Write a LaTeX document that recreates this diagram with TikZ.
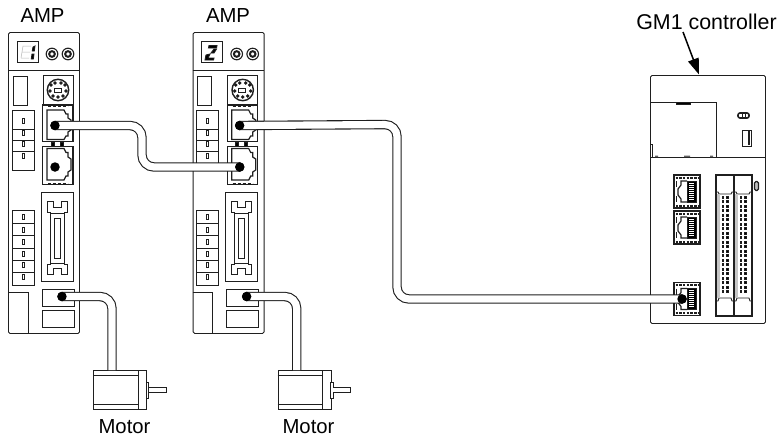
\documentclass[tikz,border=0pt]{standalone}
\usepackage{fontspec}
\setmainfont{Liberation Sans}
\usetikzlibrary{arrows.meta}
\definecolor{ln}{gray}{0.12}
\tikzset{
 x=1pt,y=-1pt,
 ln/.style={draw=ln,line width=0.9pt},
 thin ln/.style={draw=ln,line width=0.6pt},
 heavy/.style={draw=ln,line width=1.2pt},
 lbl/.style={font=\fontsize{20.3}{22}\selectfont,inner sep=0pt,text=black},
 dotn/.style={circle,fill=black,draw=none,minimum size=9.5pt,inner sep=0pt},
 cable/.style={draw=ln,line width=1.1pt,double=white,double distance=7.2pt,rounded corners=12pt},
 amp/.pic={
  \node[ln,rectangle,rounded corners=1.5pt,minimum width=71pt,minimum height=301pt,inner sep=0pt,anchor=north west,fill=white] (body) at (8,32) {};
  \draw[thin ln] (17,41) rectangle (38,62);
  \foreach \k in {52,68} {
   \draw[ln,line width=1.1pt] (\k,54) circle (5.8);
   \draw[ln,line width=2pt] (\k,54) circle (2.8);
  }
  \draw[ln] (8,70) -- (79,70);
  \draw[ln] (13,76) rectangle (27,105);
  \draw[thin ln] (43,75) rectangle (73,104);
  \draw[ln,line width=1.4pt] (58,90) circle (10.7);
  \draw[thin ln] (54,88.5) rectangle (61,92);
  \foreach \a/\b in {51/85,55/83,61/83,65/85,50/91,66/91,53/96,58/97,63/96}
   \fill[ln] (\a,\b) circle (1.3);
  \draw[thin ln] (12,110) rectangle (34,170);
  \draw[thin ln] (12,129) -- (34,129) (12,140) -- (34,140) (12,151) -- (34,151);
  \foreach \b in {121,132.5,144,156}
   \draw[line width=0.9pt,draw=ln] (22,\b-2.5) rectangle (24,\b+2.5);
  \draw[heavy,fill=white] (42.7,105) rectangle (73,141.5);
  \draw[heavy,fill=white] (42.7,146.5) rectangle (73,184.5);
  \draw[heavy] (47,110) -- (64,110) -- (66,114) -- (68,114) -- (68,118) -- (71,120) -- (71,130) -- (68,132) -- (68,136) -- (66,136) -- (64,139.5) -- (47,139.5) -- cycle;
  \draw[heavy] (47,148.5) -- (64,148.5) -- (66,152.5) -- (68,152.5) -- (68,157) -- (71,159) -- (71,170) -- (68,172) -- (68,176) -- (66,176) -- (64,180) -- (47,180) -- cycle;
  \fill[ln] (51,142.5) rectangle (54,146.5) (60,142.5) rectangle (63,146.5);
  \draw[ln,line width=1pt,dash pattern=on 3pt off 2pt] (48,106.5) -- (68,106.5) (48,183) -- (68,183);
  \draw[thin ln] (12,210) rectangle (34,285);
  \draw[thin ln] (12,223) -- (34,223) (12,235) -- (34,235) (12,248) -- (34,248) (12,260) -- (34,260) (12,272) -- (34,272);
  \foreach \b in {217,230,242,254,265,277}
   \draw[line width=0.9pt,draw=ln] (22,\b-2.5) rectangle (24,\b+2.5);
  \draw[ln] (41,192) rectangle (73,281);
  \draw[ln] (47,201) -- (47,212) -- (50,212) -- (50,264) -- (47,264) -- (47,274) -- (53,274) -- (53,268) -- (61,268) -- (61,274) -- (67,274) -- (67,264) -- (64,264) -- (64,212) -- (67,212) -- (67,201) -- (61,201) -- (61,207) -- (53,207) -- (53,201) -- cycle;
  \draw[ln] (50,213) -- (64,213) (50,263) -- (64,263);
  \draw[ln] (54,218) rectangle (60,258);
  \draw[ln] (8,292) -- (28,292) -- (28,333);
  \draw[ln] (42,289) rectangle (74,306);
  \draw[ln] (42,310) rectangle (74,327);
  \node[dotn] (lan1) at (55,125.5) {};
  \node[dotn] (lan2) at (55,167) {};
  \node[dotn] (mot) at (62,296.5) {};
 },
 motorshape/.pic={
  \node[ln,rectangle,minimum width=53pt,minimum height=39pt,inner sep=0pt,anchor=north west,fill=white] (body) at (93,370) {};
  \draw[ln] (93,375) -- (138,375) (93,404) -- (138,404);
  \draw[ln] (138,370) -- (138,409);
  \draw[ln,fill=white] (146,382) rectangle (148.5,398);
  \draw[ln,fill=white] (148.5,387) -- (166,387) -- (166,392) -- (148.5,392);
 },
 rjport/.pic={
  \draw[draw=ln,line width=1.4pt] (0,0) rectangle (26,33);
  \draw[draw=ln,line width=2pt,dash pattern=on 2.5pt off 1.2pt] (1.5,2.5) -- (24.5,2.5) (1.5,30.5) -- (24.5,30.5);
  \draw[ln,line width=1.2pt] (13,6) -- (7,6) -- (7,10) -- (4,14) -- (4,20) -- (7,24) -- (7,27) -- (13,27);
  \fill[ln] (13,6) rectangle (22,27);
  \foreach \q in {8,10,...,25} \draw[white,line width=0.5pt] (15,\q) -- (20,\q);
  \draw[ln,line width=0.8pt] (2,6) -- (2,12) (2,21) -- (2,27);
 },
}
\begin{document}
\begin{tikzpicture}
\useasboundingbox (0,0) rectangle (778,437);
\fill[white] (0,0) rectangle (778,437);

\node[ln,rectangle,rounded corners=1.5pt,minimum width=115pt,minimum height=248pt,inner sep=0pt,anchor=north west] (gm) at (650,75) {};
\draw[ln] (650,102) -- (716,102) -- (716,157);
\draw[ln] (650,157) -- (765,157);
\fill[ln] (676,102) rectangle (690,104);
\draw[ln] (650,144) -- (652.5,144) -- (652.5,157);
\fill[ln!70] (655,155.5) rectangle (658,157) (684,155.5) rectangle (690,157) (710,155.5) rectangle (713,157);
\draw[ln,line width=1.6pt,fill=white,rounded corners=2pt] (738,113) rectangle (749,118);
\draw[ln,line width=0.5pt] (742,113) -- (742,118) (745,113) -- (745,118);
\draw[ln] (742,130) -- (751,130) -- (751,146) -- (742,146) -- cycle;
\draw[ln,line width=1.3pt] (749,131) -- (749,145);
\pic at (674,175) {rjport};
\pic at (674,211) {rjport};
\pic at (674,282.5) {rjport};
\draw[ln,line width=1.1pt] (716,175) rectangle (752,316);
\draw[ln,line width=1.1pt] (734,175) -- (734,316);
\foreach \c in {716,734} {
 \draw[ln] (\c,192) -- (\c+2,192) -- (\c+3,194) -- (\c+15,194) -- (\c+16,192) -- (\c+18,192);
 \draw[ln] (\c,301) -- (\c+2,301) -- (\c+3,298) -- (\c+15,298) -- (\c+16,301) -- (\c+18,301);
 \fill[gray!45] (\c+1.3,194) rectangle (\c+4,298);
 \foreach \b in {196,200.5,...,294} {
  \fill[ln] (\c+6,\b) rectangle (\c+7.5,\b+2);
  \fill[ln] (\c+10.5,\b) rectangle (\c+12,\b+2);
 }
}
\draw[ln,line width=1.3pt,fill=gray!50,rounded corners=1.5pt] (754.5,181.5) rectangle (758.5,190.5);

\pic (a1-) at (0,0) {amp};
\pic (a2-) at (184.7,0) {amp};
\pic (m1-) at (0,0) {motorshape};
\pic (m2-) at (184.7,0) {motorshape};

% seven-segment readouts
\draw[gray!55,line width=0.5pt] (23,46) -- (31,46) (22,52) -- (30,52) (21,58) -- (29,58) (23,46) -- (21,58);
\fill[ln] (33,47) -- (35,46) -- (34.3,51) -- (32.3,51) -- cycle (32,54) -- (34,54) -- (33.3,59) -- (31.3,59) -- cycle;
\fill[ln] (209,45.5) -- (217,45.5) -- (216.5,48) -- (208.5,48) -- cycle;
\fill[ln] (214,49) -- (216.5,49) -- (214,53) -- (211,53) -- cycle;
\fill[ln] (206,55) -- (210,54) -- (208,58) -- (214,58) -- (213.5,60) -- (205,60) -- cycle;

\node[dotn] (gmport) at (682,299) {};
\coordinate (m1top) at (112,370);
\coordinate (m2top) at (296.7,370);
\coordinate (b1) at (142,125.5);
\coordinate (b2) at (142,167);
\coordinate (c1) at (397,124.5);
\coordinate (c2) at (397,299);

\draw[cable] (a1-mot.center) -- (m1top |- a1-mot.center) -- (m1top);
\draw[cable] (a2-mot.center) -- (m2top |- a2-mot.center) -- (m2top);
\draw[cable] (a1-lan1.center) -- (b1) -- (b2) -- (a2-lan2.center);
\draw[cable] (a2-lan1.center) -- (c1) -- (c2) -- (gmport.center);
\foreach \n in {a1-mot,a2-mot,a1-lan1,a2-lan2,a2-lan1,gmport}
 \fill[black] (\n) circle (4.7);

\node[lbl] (amp1) at (42.5,15.5) {AMP};
\node[lbl] (amp2) at (228,15.5) {AMP};
\node[lbl] (mot1) at (124.5,427) {Motor};
\node[lbl] (mot2) at (308.5,427) {Motor};
\node[lbl,font=\fontsize{21.4}{23}\selectfont] (gml) at (706.5,22) {GM1 controller};
\draw[-{Triangle[length=16pt,width=11pt]},line width=1.5pt,black] (683,32) -- (699,74.5);
\end{tikzpicture}
\end{document}
